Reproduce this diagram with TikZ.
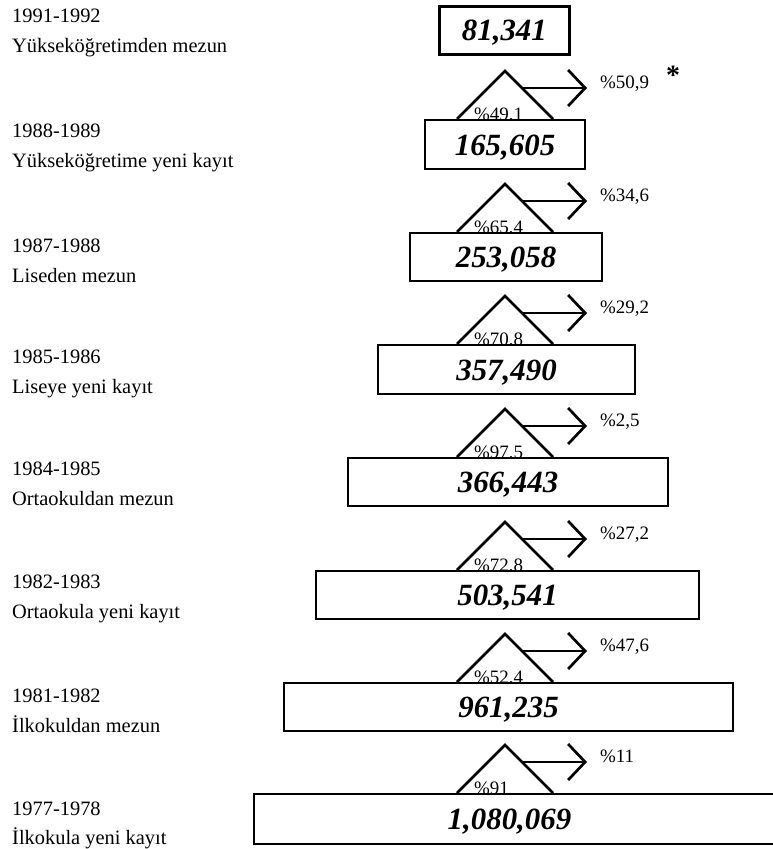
\documentclass[tikz,border=0pt]{standalone}
\usepackage{fontspec}
\setmainfont{Liberation Serif}
\usetikzlibrary{arrows.meta}

% one split: inner share under the roof, outgoing share to the right
% #1 id, #2 top edge of the stage below, #3 share that continues, #4 share that leaves
\newcommand\forkat[4]{%
  \node[pct] (in#1) at (474,#2+1) {#3};
  \coordinate (apex#1) at (505,#2-48);
  \coordinate (roofL#1) at (457,#2);
  \coordinate (roofR#1) at (553,#2);
  \draw[roof] (roofL#1) -- (apex#1) -- (roofR#1);
  \coordinate (fork#1) at (522,#2-31);
  \node[pct] (out#1) at (600,#2-31) {#4};
  \coordinate (tip#1) at ([xshift=-13bp]out#1.base west);
  \draw[split] (fork#1) -- (tip#1);
}

\begin{document}
\begin{tikzpicture}[x=1bp,y=-1bp,
  stage/.style={draw, line width=2bp, fill=white, inner sep=0pt, anchor=north west,
    font=\fontsize{31}{31}\selectfont\bfseries\itshape, text height=21bp, text depth=0pt},
  yearlab/.style={anchor=base west, inner sep=0pt, font=\fontsize{20.5}{20.5}\selectfont},
  pct/.style={anchor=base west, inner sep=0pt, font=\fontsize{19}{19}\selectfont},
  roof/.style={line width=2.7bp, line join=miter},
  split/.style={line width=2.3bp, -{Straight Barb[length=17bp, width=36bp, line width=2.7bp]}}
]
\useasboundingbox (0,0) rectangle (773,849);

% left column: years and stages
\node[yearlab] (y1) at (12,22)  {1991-1992};
\node[yearlab] (d1) at (12,52)  {Yükseköğretimden mezun};
\node[yearlab] (y2) at (12,137) {1988-1989};
\node[yearlab] (d2) at (12,167) {Yükseköğretime yeni kayıt};
\node[yearlab] (y3) at (12,252) {1987-1988};
\node[yearlab] (d3) at (12,282) {Liseden mezun};
\node[yearlab] (y4) at (12,363) {1985-1986};
\node[yearlab] (d4) at (12,393) {Liseye yeni kayıt};
\node[yearlab] (y5) at (12,475) {1984-1985};
\node[yearlab] (d5) at (12,505) {Ortaokuldan mezun};
\node[yearlab] (y6) at (12,588) {1982-1983};
\node[yearlab] (d6) at (12,618) {Ortaokula yeni kayıt};
\node[yearlab] (y7) at (12,702) {1981-1982};
\node[yearlab] (d7) at (12,732) {İlkokuldan mezun};
\node[yearlab] (y8) at (12,815) {1977-1978};
\node[yearlab] (d8) at (12,844) {İlkokula yeni kayıt};

% splits between consecutive stages
\forkat{1}{119}{\%49,1}{\%50,9}
\forkat{2}{232}{\%65,4}{\%34,6}
\forkat{3}{344}{\%70,8}{\%29,2}
\forkat{4}{457}{\%97,5}{\%2,5}
\forkat{5}{570}{\%72,8}{\%27,2}
\forkat{6}{682}{\%52,4}{\%47,6}
\forkat{7}{793}{\%91}{\%11}

\node[font=\fontsize{28}{28}\selectfont\bfseries, anchor=base, inner sep=0pt] (star) at (673,84) {*};

% stage boxes, widest at the bottom
\node[stage, line width=2.8bp, minimum width=130bp, minimum height=48bp] (b1) at (438,5)   {81,341};
\node[stage, minimum width=160bp, minimum height=49bp] (b2) at (424,119) {165,605};
\node[stage, minimum width=192bp, minimum height=48bp] (b3) at (409,232) {253,058};
\node[stage, minimum width=257bp, minimum height=49bp] (b4) at (377,344) {357,490};
\node[stage, minimum width=320bp, minimum height=48bp] (b5) at (347,457) {366,443};
\node[stage, minimum width=383bp, minimum height=48bp] (b6) at (315,570) {503,541};
\node[stage, minimum width=449bp, minimum height=48bp] (b7) at (283,682) {961,235};
\node[stage, minimum width=527bp, minimum height=50bp] (b8) at (253,793) {\hspace*{-16bp}1,080,069};
\end{tikzpicture}
\end{document}
